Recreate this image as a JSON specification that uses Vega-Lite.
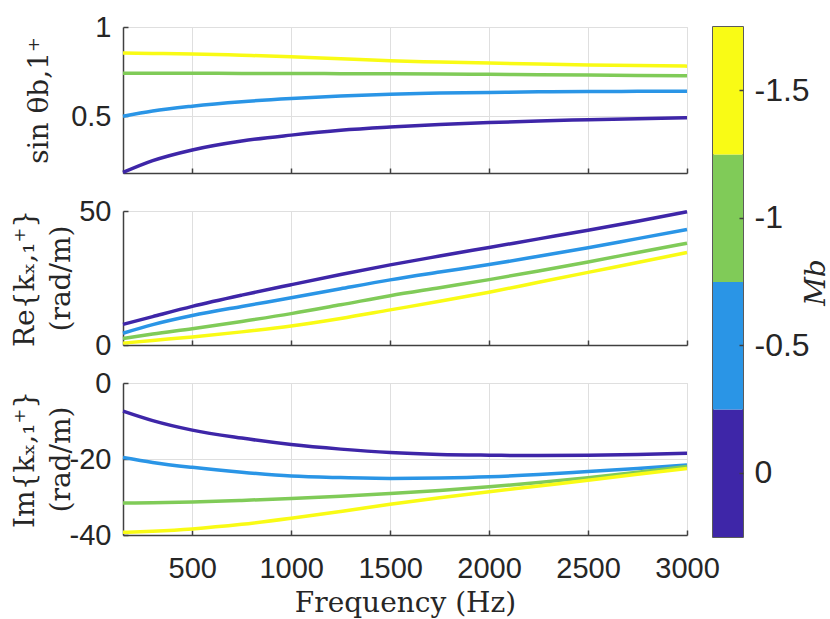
{
  "$schema": "https://vega.github.io/schema/vega-lite/v6.json",
  "padding": {"left": 10, "top": 12, "right": 0, "bottom": 0},
  "config": {
    "locale": {"number": {"decimal": ".", "thousands": ",", "grouping": [3], "currency": ["$", ""], "minus": "-"}},
    "view": {"stroke": "#dfdfdf", "strokeWidth": 1},
    "axis": {
      "labelFont": "Liberation Sans", "labelFontSize": 29, "labelColor": "#262626",
      "titleFont": "DejaVu Serif", "titleFontSize": 28, "titleFontWeight": "normal", "titleColor": "#262626",
      "domainColor": "#404040", "domainWidth": 1.5, "tickColor": "#404040", "tickWidth": 1.5, "tickSize": -5,
      "gridColor": "#dfdfdf", "gridWidth": 1
    },
    "line": {"strokeWidth": 3.5, "interpolate": "monotone"}
  },
  "datasets": {
    "curves": [
      {"f": 150, "M": 0, "s": 0.186, "re": 7.7, "im": -7.4},
      {"f": 300, "M": 0, "s": 0.252, "re": 10.6, "im": -9.9},
      {"f": 500, "M": 0, "s": 0.312, "re": 14.4, "im": -12.4},
      {"f": 750, "M": 0, "s": 0.362, "re": 18.6, "im": -14.5},
      {"f": 1000, "M": 0, "s": 0.395, "re": 22.5, "im": -16.2},
      {"f": 1250, "M": 0, "s": 0.422, "re": 26.3, "im": -17.4},
      {"f": 1500, "M": 0, "s": 0.440, "re": 29.9, "im": -18.3},
      {"f": 1750, "M": 0, "s": 0.454, "re": 33.2, "im": -18.8},
      {"f": 2000, "M": 0, "s": 0.465, "re": 36.4, "im": -19.0},
      {"f": 2250, "M": 0, "s": 0.474, "re": 39.6, "im": -19.1},
      {"f": 2500, "M": 0, "s": 0.481, "re": 42.8, "im": -19.0},
      {"f": 2750, "M": 0, "s": 0.487, "re": 46.2, "im": -18.8},
      {"f": 3000, "M": 0, "s": 0.492, "re": 49.7, "im": -18.5},
      {"f": 150, "M": -0.5, "s": 0.500, "re": 4.4, "im": -19.6},
      {"f": 300, "M": -0.5, "s": 0.530, "re": 7.6, "im": -20.9},
      {"f": 500, "M": -0.5, "s": 0.557, "re": 11.0, "im": -22.2},
      {"f": 750, "M": -0.5, "s": 0.582, "re": 14.4, "im": -23.5},
      {"f": 1000, "M": -0.5, "s": 0.600, "re": 17.6, "im": -24.5},
      {"f": 1250, "M": -0.5, "s": 0.614, "re": 21.0, "im": -24.9},
      {"f": 1500, "M": -0.5, "s": 0.624, "re": 24.3, "im": -25.1},
      {"f": 1750, "M": -0.5, "s": 0.630, "re": 27.2, "im": -25.0},
      {"f": 2000, "M": -0.5, "s": 0.634, "re": 30.0, "im": -24.7},
      {"f": 2250, "M": -0.5, "s": 0.637, "re": 33.1, "im": -24.1},
      {"f": 2500, "M": -0.5, "s": 0.639, "re": 36.3, "im": -23.3},
      {"f": 2750, "M": -0.5, "s": 0.640, "re": 39.7, "im": -22.5},
      {"f": 3000, "M": -0.5, "s": 0.641, "re": 43.1, "im": -21.6},
      {"f": 150, "M": -1, "s": 0.741, "re": 2.4, "im": -31.6},
      {"f": 300, "M": -1, "s": 0.741, "re": 4.1, "im": -31.5},
      {"f": 500, "M": -1, "s": 0.741, "re": 6.1, "im": -31.3},
      {"f": 750, "M": -1, "s": 0.740, "re": 8.8, "im": -30.9},
      {"f": 1000, "M": -1, "s": 0.740, "re": 11.7, "im": -30.4},
      {"f": 1250, "M": -1, "s": 0.739, "re": 15.0, "im": -29.8},
      {"f": 1500, "M": -1, "s": 0.738, "re": 18.4, "im": -29.1},
      {"f": 1750, "M": -1, "s": 0.737, "re": 21.4, "im": -28.3},
      {"f": 2000, "M": -1, "s": 0.735, "re": 24.4, "im": -27.3},
      {"f": 2250, "M": -1, "s": 0.733, "re": 27.6, "im": -26.2},
      {"f": 2500, "M": -1, "s": 0.731, "re": 31.0, "im": -24.9},
      {"f": 2750, "M": -1, "s": 0.729, "re": 34.5, "im": -23.5},
      {"f": 3000, "M": -1, "s": 0.727, "re": 38.0, "im": -22.0},
      {"f": 150, "M": -1.5, "s": 0.854, "re": 0.7, "im": -39.3},
      {"f": 300, "M": -1.5, "s": 0.852, "re": 1.7, "im": -39.0},
      {"f": 500, "M": -1.5, "s": 0.849, "re": 3.0, "im": -38.4},
      {"f": 750, "M": -1.5, "s": 0.842, "re": 4.9, "im": -37.2},
      {"f": 1000, "M": -1.5, "s": 0.834, "re": 7.1, "im": -35.6},
      {"f": 1250, "M": -1.5, "s": 0.822, "re": 9.9, "im": -33.8},
      {"f": 1500, "M": -1.5, "s": 0.811, "re": 13.1, "im": -31.9},
      {"f": 1750, "M": -1.5, "s": 0.804, "re": 16.3, "im": -30.2},
      {"f": 2000, "M": -1.5, "s": 0.798, "re": 19.7, "im": -28.6},
      {"f": 2250, "M": -1.5, "s": 0.793, "re": 23.4, "im": -27.1},
      {"f": 2500, "M": -1.5, "s": 0.788, "re": 27.1, "im": -25.6},
      {"f": 2750, "M": -1.5, "s": 0.784, "re": 30.8, "im": -24.0},
      {"f": 3000, "M": -1.5, "s": 0.781, "re": 34.5, "im": -22.5}
    ],
    "cbar": [{"M": 0}, {"M": -0.5}, {"M": -1}, {"M": -1.5}]
  },
  "bounds": "flush",
  "spacing": 590,
  "hconcat": [
    {
      "spacing": 38,
      "bounds": "flush",
      "vconcat": [
        {
          "width": 564, "height": 146,
          "data": {"name": "curves"},
          "mark": {"type": "line"},
          "encoding": {
            "x": {"field": "f", "type": "quantitative", "scale": {"domain": [150, 3000], "nice": false, "zero": false},
                  "axis": {"values": [500, 1000, 1500, 2000, 2500, 3000], "labels": false, "title": null}},
            "y": {"field": "s", "type": "quantitative", "scale": {"domain": [0.183, 1], "nice": false, "zero": false},
                  "axis": {"values": [0.5, 1], "format": "~g", "labelPadding": 17, "title": "sin θb,1⁺", "titleX": -70, "titleAngle": 270, "titleBaseline": "bottom"}},
            "color": {"field": "M", "type": "ordinal", "scale": {"domain": [0, -0.5, -1, -1.5], "range": ["#3e26a8", "#2a95e6", "#80cb58", "#f9fb15"]}, "legend": null}
          }
        },
        {
          "width": 564, "height": 134,
          "data": {"name": "curves"},
          "mark": {"type": "line"},
          "encoding": {
            "x": {"field": "f", "type": "quantitative", "scale": {"domain": [150, 3000], "nice": false, "zero": false},
                  "axis": {"values": [500, 1000, 1500, 2000, 2500, 3000], "labels": false, "title": null}},
            "y": {"field": "re", "type": "quantitative", "scale": {"domain": [0, 50], "nice": false},
                  "axis": {"values": [0, 50], "format": "d", "labelPadding": 17, "title": ["Re{kₓ,₁⁺}", "(rad/m)"], "titleLineHeight": 36, "titleX": -84, "titleAngle": 270, "titleBaseline": "bottom"}},
            "color": {"field": "M", "type": "ordinal", "scale": {"domain": [0, -0.5, -1, -1.5], "range": ["#3e26a8", "#2a95e6", "#80cb58", "#f9fb15"]}, "legend": null}
          }
        },
        {
          "width": 564, "height": 152,
          "data": {"name": "curves"},
          "mark": {"type": "line"},
          "encoding": {
            "x": {"field": "f", "type": "quantitative", "scale": {"domain": [150, 3000], "nice": false, "zero": false},
                  "axis": {"values": [500, 1000, 1500, 2000, 2500, 3000], "format": "d", "labelFlush": false, "labelPadding": 24, "title": "Frequency (Hz)", "titlePadding": 6}},
            "y": {"field": "im", "type": "quantitative", "scale": {"domain": [-40, 0], "nice": false},
                  "axis": {"values": [-40, -20, 0], "format": "d", "labelPadding": 17, "title": ["Im{kₓ,₁⁺}", "(rad/m)"], "titleLineHeight": 36, "titleX": -84, "titleAngle": 270, "titleBaseline": "bottom"}},
            "color": {"field": "M", "type": "ordinal", "scale": {"domain": [0, -0.5, -1, -1.5], "range": ["#3e26a8", "#2a95e6", "#80cb58", "#f9fb15"]}, "legend": null}
          }
        }
      ]
    },
    {
      "width": 30, "height": 510,
      "data": {"name": "cbar"},
      "view": {"stroke": "#262626", "strokeWidth": 1.5},
      "mark": {"type": "rect"},
      "encoding": {
        "y": {"field": "M", "type": "ordinal", "sort": [-1.5, -1, -0.5, 0], "scale": {"paddingInner": 0, "paddingOuter": 0},
              "axis": {"orient": "right", "domain": false, "tickSize": -4, "labelPadding": 15, "labelFontSize": 32, "title": "Mb", "titleFontStyle": "italic", "titleX": 73, "titleY": 255, "titleAngle": 270, "titleBaseline": "middle", "titleAlign": "center"}},
        "color": {"field": "M", "type": "ordinal", "scale": {"domain": [0, -0.5, -1, -1.5], "range": ["#3e26a8", "#2a95e6", "#80cb58", "#f9fb15"]}, "legend": null}
      }
    }
  ]
}
